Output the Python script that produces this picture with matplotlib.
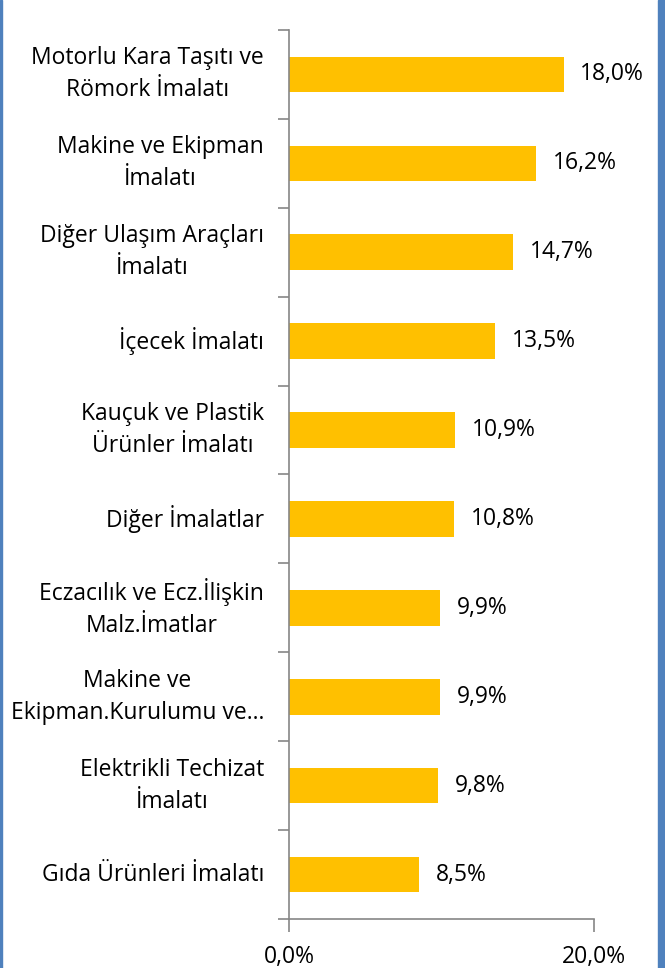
import matplotlib.pyplot as plt
from matplotlib.patches import Rectangle

plt.rcParams['font.family'] = ['Open Sans', 'DejaVu Sans']

# veriler (üstten alta)
sektorler = ['Motorlu Kara Taşıtı ve\nRömork İmalatı',
             'Makine ve Ekipman\nİmalatı',
             'Diğer Ulaşım Araçları\nİmalatı',
             'İçecek İmalatı',
             'Kauçuk ve Plastik\nÜrünler İmalatı',
             'Diğer İmalatlar',
             'Eczacılık ve Ecz.İlişkin\nMalz.İmatlar',
             'Makine ve\nEkipman.Kurulumu ve...',
             'Elektrikli Techizat\nİmalatı',
             'Gıda Ürünleri İmalatı']
oranlar = [18.0, 16.2, 14.7, 13.5, 10.9, 10.8, 9.9, 9.9, 9.8, 8.5]
x_ticks = [0, 20]
x_labels = ['0,0%', '20,0%']

fig = plt.figure(figsize=(6.65, 9.68), dpi=100)
ax = fig.add_axes([289 / 665, 1 - 919 / 968, (594 - 289) / 665, (919 - 30) / 968])

n = len(oranlar)
ypos = list(range(n))[::-1]
ax.barh(ypos, oranlar, height=0.4, color='#FFC000', zorder=2)

for y, v in zip(ypos, oranlar):
    ax.text(v + 1.1, y, f'{v:.1f}%'.replace('.', ','), va='center', ha='left',
            fontsize=16.5, color='black')

ax.set_xlim(0, 20)
ax.set_ylim(-0.5, n - 0.5)
ax.set_xticks(x_ticks)
ax.set_xticklabels(x_labels, fontsize=16.5)

# kategori etiketleri, tikler arasında
ax.set_yticks([i - 0.5 for i in range(n + 1)])
ax.set_yticklabels([''] * (n + 1))
for y, lab in zip(ypos, sektorler):
    ax.annotate(lab, xy=(0, y), xycoords=('axes fraction', 'data'),
                xytext=(-18, 0), textcoords='offset points',
                ha='right', va='center', multialignment='center',
                fontsize=16.5, linespacing=1.45)
ax.tick_params(axis='y', which='major', length=8, color='#868686', width=1.2)
ax.tick_params(axis='x', length=9, color='#868686', width=1.2, pad=10)

for s in ['top', 'right']:
    ax.spines[s].set_visible(False)
for s in ['left', 'bottom']:
    ax.spines[s].set_color('#868686')
    ax.spines[s].set_linewidth(1.2)

# çerçeve kenarları
fig.patches.append(Rectangle((0, 0), 2 / 665, 1, transform=fig.transFigure,
                             color='#4F81BD', zorder=0))
fig.patches.append(Rectangle((658 / 665, 0), 7 / 665, 1, transform=fig.transFigure,
                             color='#4F81BD', zorder=0))

plt.savefig('out.png', dpi=100)
